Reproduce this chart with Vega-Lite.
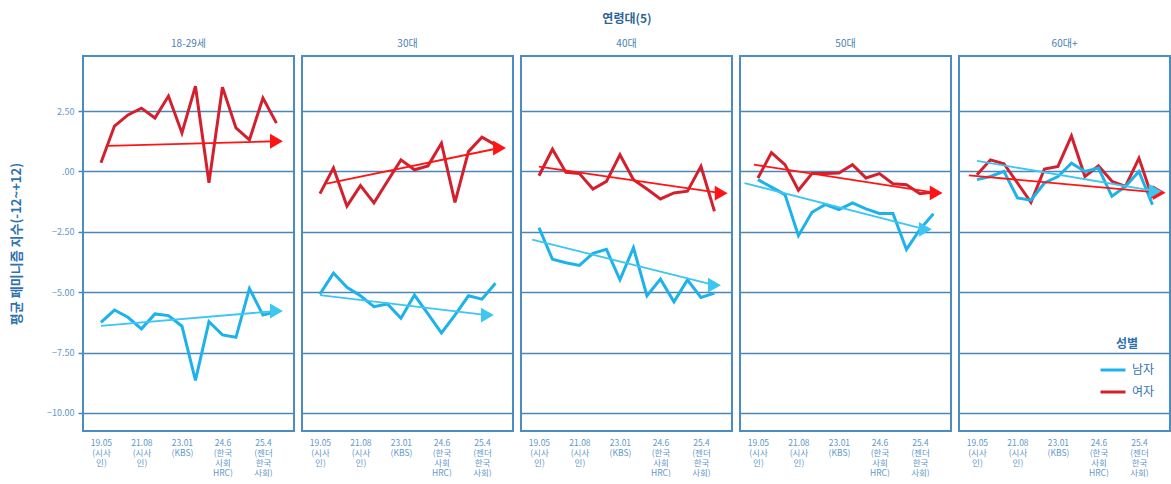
{
  "$schema": "https://vega.github.io/schema/vega-lite/v6.json",
  "padding": {"left": 10, "top": 13, "right": 0, "bottom": 0},
  "datasets": {
    "d": [
      {"a":"18-29세","s":"여자","k":"obs","t":0,"v":0.36},{"a":"18-29세","s":"여자","k":"obs","t":1,"v":1.88},{"a":"18-29세","s":"여자","k":"obs","t":2,"v":2.34},{"a":"18-29세","s":"여자","k":"obs","t":3,"v":2.62},{"a":"18-29세","s":"여자","k":"obs","t":4,"v":2.21},{"a":"18-29세","s":"여자","k":"obs","t":5,"v":3.12},{"a":"18-29세","s":"여자","k":"obs","t":6,"v":1.59},{"a":"18-29세","s":"여자","k":"obs","t":7,"v":3.53},{"a":"18-29세","s":"여자","k":"obs","t":8,"v":-0.47},{"a":"18-29세","s":"여자","k":"obs","t":9,"v":3.49},{"a":"18-29세","s":"여자","k":"obs","t":10,"v":1.80},{"a":"18-29세","s":"여자","k":"obs","t":11,"v":1.31},{"a":"18-29세","s":"여자","k":"obs","t":12,"v":3.04},{"a":"18-29세","s":"여자","k":"obs","t":13,"v":2.00},
      {"a":"18-29세","s":"남자","k":"obs","t":0,"v":-6.25},{"a":"18-29세","s":"남자","k":"obs","t":1,"v":-5.74},{"a":"18-29세","s":"남자","k":"obs","t":2,"v":-6.04},{"a":"18-29세","s":"남자","k":"obs","t":3,"v":-6.52},{"a":"18-29세","s":"남자","k":"obs","t":4,"v":-5.90},{"a":"18-29세","s":"남자","k":"obs","t":5,"v":-5.97},{"a":"18-29세","s":"남자","k":"obs","t":6,"v":-6.41},{"a":"18-29세","s":"남자","k":"obs","t":7,"v":-8.65},{"a":"18-29세","s":"남자","k":"obs","t":8,"v":-6.22},{"a":"18-29세","s":"남자","k":"obs","t":9,"v":-6.77},{"a":"18-29세","s":"남자","k":"obs","t":10,"v":-6.87},{"a":"18-29세","s":"남자","k":"obs","t":11,"v":-4.85},{"a":"18-29세","s":"남자","k":"obs","t":12,"v":-5.95},{"a":"18-29세","s":"남자","k":"obs","t":13,"v":-5.80},
      {"a":"30대","s":"여자","k":"obs","t":0,"v":-0.92},{"a":"30대","s":"여자","k":"obs","t":1,"v":0.14},{"a":"30대","s":"여자","k":"obs","t":2,"v":-1.44},{"a":"30대","s":"여자","k":"obs","t":3,"v":-0.59},{"a":"30대","s":"여자","k":"obs","t":4,"v":-1.30},{"a":"30대","s":"여자","k":"obs","t":5,"v":-0.41},{"a":"30대","s":"여자","k":"obs","t":6,"v":0.48},{"a":"30대","s":"여자","k":"obs","t":7,"v":0.07},{"a":"30대","s":"여자","k":"obs","t":8,"v":0.23},{"a":"30대","s":"여자","k":"obs","t":9,"v":1.17},{"a":"30대","s":"여자","k":"obs","t":10,"v":-1.28},{"a":"30대","s":"여자","k":"obs","t":11,"v":0.82},{"a":"30대","s":"여자","k":"obs","t":12,"v":1.42},{"a":"30대","s":"여자","k":"obs","t":13,"v":1.10},
      {"a":"30대","s":"남자","k":"obs","t":0,"v":-5.08},{"a":"30대","s":"남자","k":"obs","t":1,"v":-4.21},{"a":"30대","s":"남자","k":"obs","t":2,"v":-4.80},{"a":"30대","s":"남자","k":"obs","t":3,"v":-5.15},{"a":"30대","s":"남자","k":"obs","t":4,"v":-5.60},{"a":"30대","s":"남자","k":"obs","t":5,"v":-5.49},{"a":"30대","s":"남자","k":"obs","t":6,"v":-6.08},{"a":"30대","s":"남자","k":"obs","t":7,"v":-5.12},{"a":"30대","s":"남자","k":"obs","t":8,"v":-5.90},{"a":"30대","s":"남자","k":"obs","t":9,"v":-6.69},{"a":"30대","s":"남자","k":"obs","t":10,"v":-5.95},{"a":"30대","s":"남자","k":"obs","t":11,"v":-5.15},{"a":"30대","s":"남자","k":"obs","t":12,"v":-5.29},{"a":"30대","s":"남자","k":"obs","t":13,"v":-4.63},
      {"a":"40대","s":"여자","k":"obs","t":0,"v":-0.18},{"a":"40대","s":"여자","k":"obs","t":1,"v":0.92},{"a":"40대","s":"여자","k":"obs","t":2,"v":-0.04},{"a":"40대","s":"여자","k":"obs","t":3,"v":-0.09},{"a":"40대","s":"여자","k":"obs","t":4,"v":-0.73},{"a":"40대","s":"여자","k":"obs","t":5,"v":-0.41},{"a":"40대","s":"여자","k":"obs","t":6,"v":0.69},{"a":"40대","s":"여자","k":"obs","t":7,"v":-0.34},{"a":"40대","s":"여자","k":"obs","t":8,"v":-0.73},{"a":"40대","s":"여자","k":"obs","t":9,"v":-1.14},{"a":"40대","s":"여자","k":"obs","t":10,"v":-0.89},{"a":"40대","s":"여자","k":"obs","t":11,"v":-0.82},{"a":"40대","s":"여자","k":"obs","t":12,"v":0.21},{"a":"40대","s":"여자","k":"obs","t":13,"v":-1.65},
      {"a":"40대","s":"남자","k":"obs","t":0,"v":-2.33},{"a":"40대","s":"남자","k":"obs","t":1,"v":-3.64},{"a":"40대","s":"남자","k":"obs","t":2,"v":-3.78},{"a":"40대","s":"남자","k":"obs","t":3,"v":-3.89},{"a":"40대","s":"남자","k":"obs","t":4,"v":-3.39},{"a":"40대","s":"남자","k":"obs","t":5,"v":-3.23},{"a":"40대","s":"남자","k":"obs","t":6,"v":-4.49},{"a":"40대","s":"남자","k":"obs","t":7,"v":-3.16},{"a":"40대","s":"남자","k":"obs","t":8,"v":-5.15},{"a":"40대","s":"남자","k":"obs","t":9,"v":-4.46},{"a":"40대","s":"남자","k":"obs","t":10,"v":-5.40},{"a":"40대","s":"남자","k":"obs","t":11,"v":-4.49},{"a":"40대","s":"남자","k":"obs","t":12,"v":-5.22},{"a":"40대","s":"남자","k":"obs","t":13,"v":-5.04},
      {"a":"50대","s":"여자","k":"obs","t":0,"v":-0.27},{"a":"50대","s":"여자","k":"obs","t":1,"v":0.78},{"a":"50대","s":"여자","k":"obs","t":2,"v":0.28},{"a":"50대","s":"여자","k":"obs","t":3,"v":-0.78},{"a":"50대","s":"여자","k":"obs","t":4,"v":-0.09},{"a":"50대","s":"여자","k":"obs","t":5,"v":-0.09},{"a":"50대","s":"여자","k":"obs","t":6,"v":-0.07},{"a":"50대","s":"여자","k":"obs","t":7,"v":0.28},{"a":"50대","s":"여자","k":"obs","t":8,"v":-0.27},{"a":"50대","s":"여자","k":"obs","t":9,"v":-0.09},{"a":"50대","s":"여자","k":"obs","t":10,"v":-0.51},{"a":"50대","s":"여자","k":"obs","t":11,"v":-0.55},{"a":"50대","s":"여자","k":"obs","t":12,"v":-0.92},{"a":"50대","s":"여자","k":"obs","t":13,"v":-0.85},
      {"a":"50대","s":"남자","k":"obs","t":0,"v":-0.34},{"a":"50대","s":"남자","k":"obs","t":1,"v":-0.65},{"a":"50대","s":"남자","k":"obs","t":2,"v":-0.96},{"a":"50대","s":"남자","k":"obs","t":3,"v":-2.66},{"a":"50대","s":"남자","k":"obs","t":4,"v":-1.69},{"a":"50대","s":"남자","k":"obs","t":5,"v":-1.37},{"a":"50대","s":"남자","k":"obs","t":6,"v":-1.58},{"a":"50대","s":"남자","k":"obs","t":7,"v":-1.30},{"a":"50대","s":"남자","k":"obs","t":8,"v":-1.55},{"a":"50대","s":"남자","k":"obs","t":9,"v":-1.74},{"a":"50대","s":"남자","k":"obs","t":10,"v":-1.74},{"a":"50대","s":"남자","k":"obs","t":11,"v":-3.23},{"a":"50대","s":"남자","k":"obs","t":12,"v":-2.40},{"a":"50대","s":"남자","k":"obs","t":13,"v":-1.75},
      {"a":"60대+","s":"여자","k":"obs","t":0,"v":-0.14},{"a":"60대+","s":"여자","k":"obs","t":1,"v":0.48},{"a":"60대+","s":"여자","k":"obs","t":2,"v":0.32},{"a":"60대+","s":"여자","k":"obs","t":3,"v":-0.48},{"a":"60대+","s":"여자","k":"obs","t":4,"v":-1.28},{"a":"60대+","s":"여자","k":"obs","t":5,"v":0.10},{"a":"60대+","s":"여자","k":"obs","t":6,"v":0.21},{"a":"60대+","s":"여자","k":"obs","t":7,"v":1.47},{"a":"60대+","s":"여자","k":"obs","t":8,"v":-0.21},{"a":"60대+","s":"여자","k":"obs","t":9,"v":0.23},{"a":"60대+","s":"여자","k":"obs","t":10,"v":-0.41},{"a":"60대+","s":"여자","k":"obs","t":11,"v":-0.62},{"a":"60대+","s":"여자","k":"obs","t":12,"v":0.55},{"a":"60대+","s":"여자","k":"obs","t":13,"v":-1.10},
      {"a":"60대+","s":"남자","k":"obs","t":0,"v":-0.34},{"a":"60대+","s":"남자","k":"obs","t":1,"v":-0.21},{"a":"60대+","s":"남자","k":"obs","t":2,"v":0.00},{"a":"60대+","s":"남자","k":"obs","t":3,"v":-1.10},{"a":"60대+","s":"남자","k":"obs","t":4,"v":-1.19},{"a":"60대+","s":"남자","k":"obs","t":5,"v":-0.48},{"a":"60대+","s":"남자","k":"obs","t":6,"v":-0.21},{"a":"60대+","s":"남자","k":"obs","t":7,"v":0.34},{"a":"60대+","s":"남자","k":"obs","t":8,"v":0.00},{"a":"60대+","s":"남자","k":"obs","t":9,"v":0.14},{"a":"60대+","s":"남자","k":"obs","t":10,"v":-1.03},{"a":"60대+","s":"남자","k":"obs","t":11,"v":-0.62},{"a":"60대+","s":"남자","k":"obs","t":12,"v":0.00},{"a":"60대+","s":"남자","k":"obs","t":13,"v":-1.38},
      {"a":"18-29세","s":"여자","k":"trend","e":0,"t":0.5,"v":1.06},{"a":"18-29세","s":"여자","k":"trend","e":1,"t":13,"v":1.25},
      {"a":"18-29세","s":"남자","k":"trend","e":0,"t":0,"v":-6.4},{"a":"18-29세","s":"남자","k":"trend","e":1,"t":13,"v":-5.78},
      {"a":"30대","s":"여자","k":"trend","e":0,"t":0.5,"v":-0.51},{"a":"30대","s":"여자","k":"trend","e":1,"t":13.3,"v":0.97},
      {"a":"30대","s":"남자","k":"trend","e":0,"t":0,"v":-5.12},{"a":"30대","s":"남자","k":"trend","e":1,"t":12.4,"v":-5.95},
      {"a":"40대","s":"여자","k":"trend","e":0,"t":0,"v":0.2},{"a":"40대","s":"여자","k":"trend","e":1,"t":13.5,"v":-0.9},
      {"a":"40대","s":"남자","k":"trend","e":0,"t":-0.5,"v":-2.82},{"a":"40대","s":"남자","k":"trend","e":1,"t":13,"v":-4.71},
      {"a":"50대","s":"여자","k":"trend","e":0,"t":-0.3,"v":0.28},{"a":"50대","s":"여자","k":"trend","e":1,"t":13.2,"v":-0.89},
      {"a":"50대","s":"남자","k":"trend","e":0,"t":-1,"v":-0.48},{"a":"50대","s":"남자","k":"trend","e":1,"t":12.4,"v":-2.4},
      {"a":"60대+","s":"여자","k":"trend","e":0,"t":-0.6,"v":-0.16},{"a":"60대+","s":"여자","k":"trend","e":1,"t":13.5,"v":-0.88},
      {"a":"60대+","s":"남자","k":"trend","e":0,"t":0,"v":0.44},{"a":"60대+","s":"남자","k":"trend","e":1,"t":13.2,"v":-0.82}
    ]
  },
  "data": {"name": "d"},
  "facet": {
    "column": {
      "field": "a",
      "type": "nominal",
      "sort": ["18-29세", "30대", "40대", "50대", "60대+"],
      "title": "연령대(5)",
      "header": {
        "titleFont": "Noto Sans CJK KR", "titleFontSize": 12, "titleFontWeight": "bold", "titleColor": "#2f6596", "titlePadding": 3,
        "labelFont": "Noto Sans CJK KR", "labelFontSize": 10, "labelColor": "#4a80b3", "labelPadding": 6
      }
    }
  },
  "spacing": 6,
  "spec": {
    "width": 211,
    "height": 375,
    "layer": [
      {
        "transform": [{"filter": "datum.k == 'obs'"}],
        "mark": {"type": "line", "strokeWidth": 3, "strokeJoin": "miter", "clip": true},
        "encoding": {
          "x": {"field": "t", "type": "quantitative", "scale": {"domain": [-1.33, 14.3], "nice": false, "zero": false},
            "axis": {"values": [0, 3, 6, 9, 12], "title": null, "grid": false, "ticks": false, "labelBaseline": "top", "labelPadding": 6, "labelLineHeight": 10,
              "labelExpr": "datum.value == 0 ? ['19.05','(시사','인)'] : datum.value == 3 ? ['21.08','(시사','인)'] : datum.value == 6 ? ['23.01','(KBS)'] : datum.value == 9 ? ['24.6','(한국','사회','HRC)'] : ['25.4','(젠더','한국','사회)']"}},
          "y": {"field": "v", "type": "quantitative", "scale": {"domain": [-10.75, 4.78], "nice": false, "zero": false},
            "axis": {"values": [-10, -7.5, -5, -2.5, 0, 2.5], "title": "평균 페미니즘 지수(-12~+12)", "labelExpr": "datum.value == 0 ? '.00' : format(datum.value, '.2f')"}},
          "color": {"field": "s", "type": "nominal", "scale": {"domain": ["남자", "여자"], "range": ["#1db2ea", "#d2202e"]},
            "legend": {"title": "성별", "orient": "none", "legendX": 1016, "legendY": 283, "symbolType": "stroke", "symbolStrokeWidth": 3, "symbolSize": 625, "labelOffset": 5, "titleAnchor": "middle", "titleAlign": "center"}}
        }
      },
      {
        "transform": [{"filter": "datum.k == 'trend'"}],
        "mark": {"type": "line", "strokeWidth": 1.8, "clip": true},
        "encoding": {
          "x": {"field": "t", "type": "quantitative"},
          "y": {"field": "v", "type": "quantitative"},
          "detail": {"field": "s"},
          "color": {"condition": {"test": "datum.s == '남자'", "value": "#3cc6f0"}, "value": "#ff1414"}
        }
      },
      {
        "transform": [{"filter": "datum.k == 'trend' && datum.e == 1"}],
        "mark": {"type": "point", "shape": "triangle-right", "filled": true, "size": 220, "opacity": 1},
        "encoding": {
          "x": {"field": "t", "type": "quantitative"},
          "y": {"field": "v", "type": "quantitative"},
          "color": {"condition": {"test": "datum.s == '남자'", "value": "#3cc6f0"}, "value": "#ff1414"}
        }
      }
    ]
  },
  "config": {
    "font": "Noto Sans CJK KR",
    "view": {"stroke": "#4d8cc0", "strokeWidth": 2},
    "axis": {"domain": false, "labelFont": "Noto Sans CJK KR", "labelColor": "#5f98c9", "titleFont": "Noto Sans CJK KR"},
    "axisY": {"gridColor": "#4a86b8", "gridWidth": 1.5, "gridOpacity": 1, "tickColor": "#4a86b8", "tickSize": 4, "tickWidth": 1.5, "labelFontSize": 9, "labelPadding": 4,
      "titleFontSize": 13, "titleFontWeight": "bold", "titleColor": "#2f72ad", "titlePadding": 23},
    "axisX": {"labelFontSize": 8.5},
    "legend": {"titleFont": "Noto Sans CJK KR", "titleFontSize": 12, "titleColor": "#2f72ad", "titleFontWeight": "bold", "labelFont": "Noto Sans CJK KR", "labelFontSize": 12, "labelColor": "#2f72ad"}
  }
}
